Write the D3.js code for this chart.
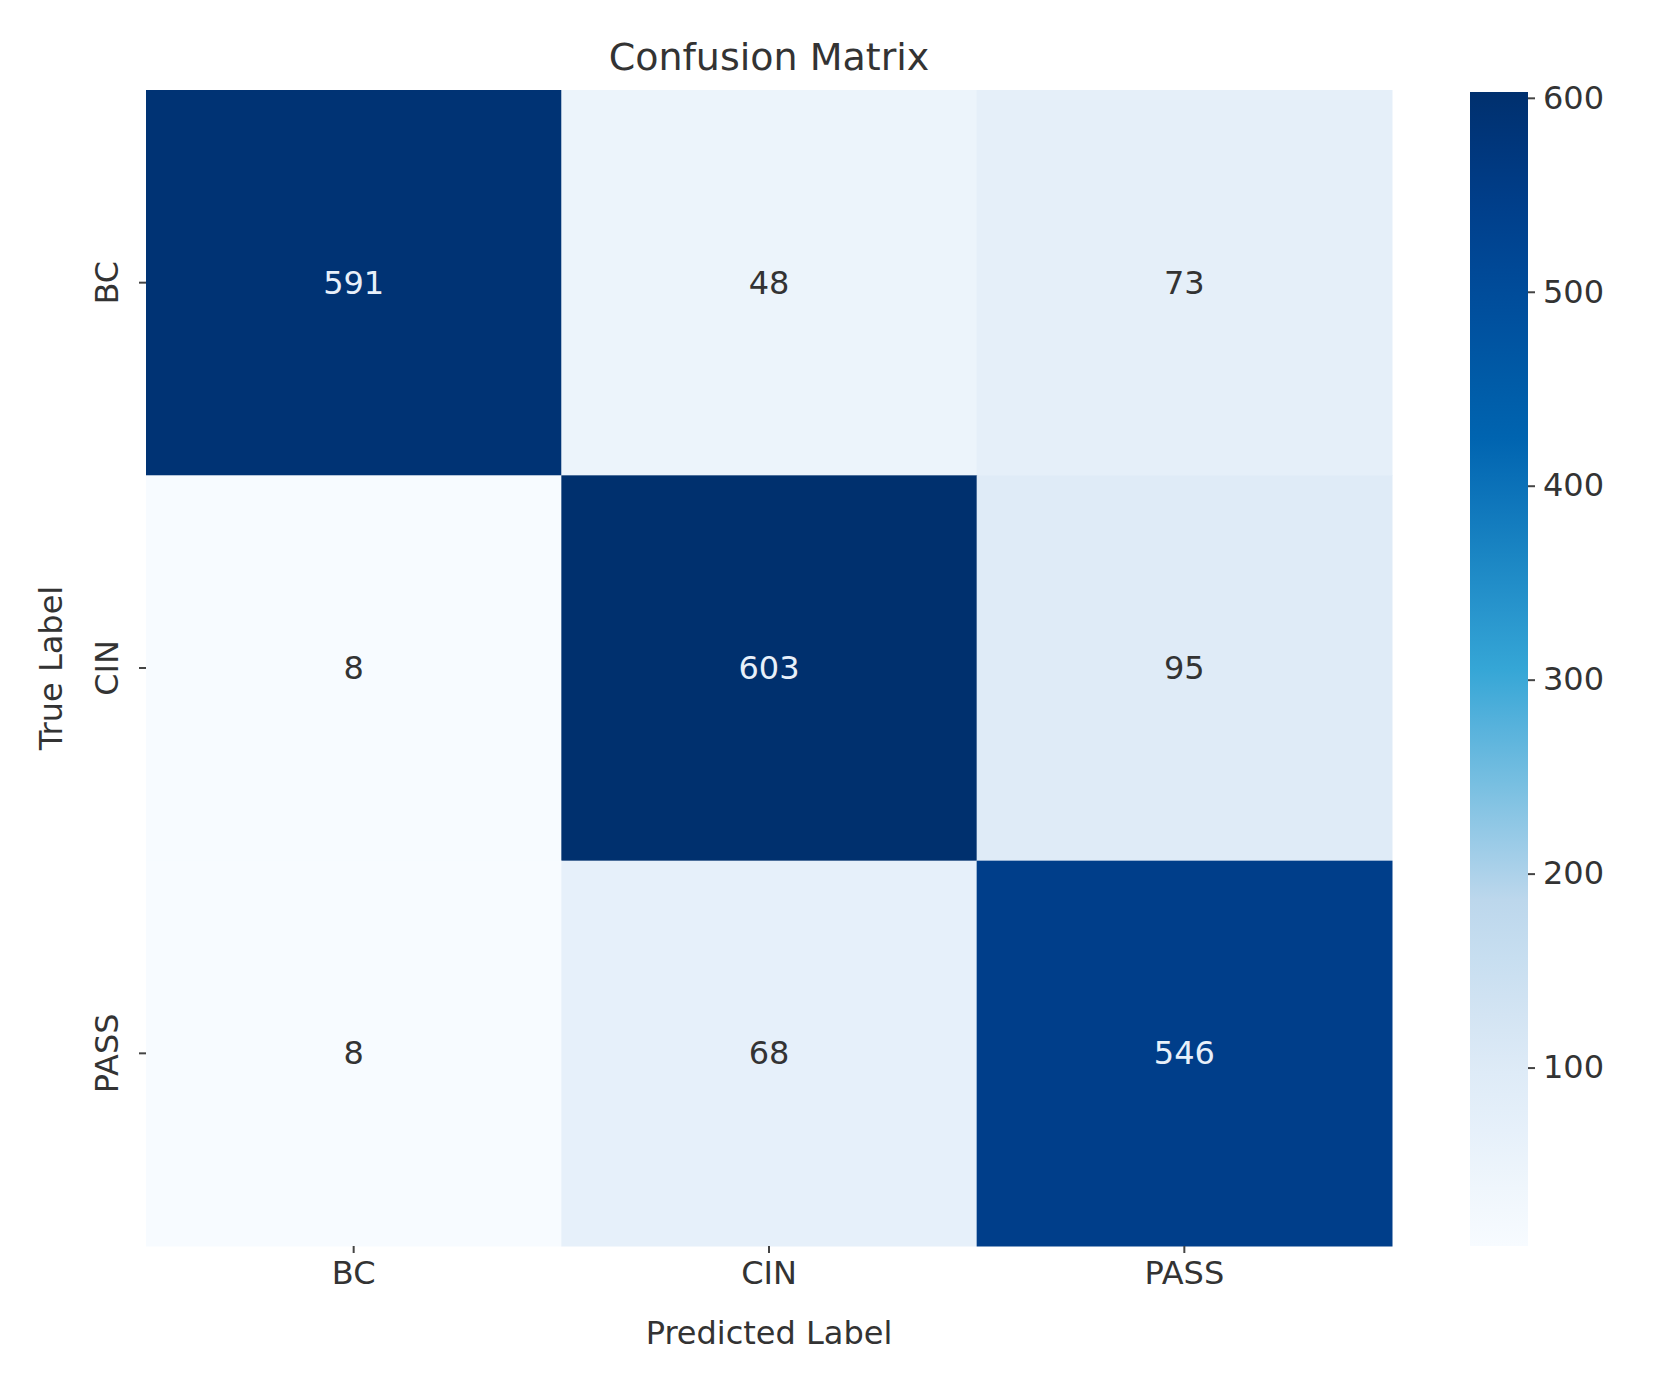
<!DOCTYPE html>
<html><head><meta charset="utf-8">
<script src="https://cdn.jsdelivr.net/npm/d3@7"></script>
<style>body{margin:0;background:#fff}text{font-family:"DejaVu Sans",sans-serif;fill:#333}</style>
</head><body>
<script>
var labels = ['BC','CIN','PASS'];
var matrix = [[591,48,73],[8,603,95],[8,68,546]];
var barTicks = [100,200,300,400,500,600];

var W = 1656, H = 1388;
var mLeft = 146, mTop = 90, mRight = 1392, mBottom = 1246;
var vmin = 8, vmax = 603;

var svg = d3.select('body').append('svg').attr('width',W).attr('height',H);
//blues-like ramp, reading the colorbar of the reference
var ramp = d3.scaleLinear()
	.domain([0,0.15,0.3,0.5,0.7,0.88,1])
	.range(['#f7fbff','#deebf7','#bcd7ec','#35a6d6','#0064b0','#004291','#00306e'])
	.interpolate(d3.interpolateRgb);
var color = function(v){ return ramp((v-vmin)/(vmax-vmin)); };

var x = d3.scaleBand().domain(labels).range([mLeft,mRight]);
var y = d3.scaleBand().domain(labels).range([mTop,mBottom]);

//cells
labels.forEach(function(r,i){
	labels.forEach(function(c,j){
		var v = matrix[i][j];
		svg.append('rect').attr('x',x(c)).attr('y',y(r))
			.attr('width',x.bandwidth()+0.5).attr('height',y.bandwidth()+0.5)
			.attr('fill',color(v));
		svg.append('text').attr('x',x(c)+x.bandwidth()/2).attr('y',y(r)+y.bandwidth()/2)
			.attr('text-anchor','middle').attr('dominant-baseline','central')
			.style('font-size','32px').style('fill',v>350?'#e8f0fa':'#333').text(v);
	});
});

//axes
var gx = svg.append('g').attr('transform','translate(0,'+mBottom+')')
	.call(d3.axisBottom(x).tickSize(7).tickPadding(8));
var gy = svg.append('g').attr('transform','translate('+mLeft+',0)')
	.call(d3.axisLeft(y).tickSize(7).tickPadding(8));
[gx,gy].forEach(function(g){
	g.select('.domain').remove();
	g.selectAll('line').attr('stroke','#444').attr('stroke-width',2);
	g.selectAll('text').style('font-size','32px');
});
gy.selectAll('text')
	.attr('x',0).attr('y',0).attr('dy',0)
	.attr('text-anchor','middle')
	.attr('transform','translate(-28,0) rotate(-90)');

svg.append('text').attr('x',(mLeft+mRight)/2).attr('y',70).attr('text-anchor','middle')
	.style('font-size','38px').text('Confusion Matrix');
svg.append('text').attr('x',(mLeft+mRight)/2).attr('y',1344).attr('text-anchor','middle')
	.style('font-size','32px').text('Predicted Label');
svg.append('text').attr('transform','translate(62,'+((mTop+mBottom)/2)+') rotate(-90)')
	.attr('text-anchor','middle').style('font-size','32px').text('True Label');

//colorbar
var cbx = 1470, cbw = 58, cbTop = 92;
var cy = d3.scaleLinear().domain([vmin,vmax]).range([mBottom,cbTop]);
var grad = svg.append('defs').append('linearGradient').attr('id','cb')
	.attr('x1',0).attr('y1',1).attr('x2',0).attr('y2',0);
d3.range(0,1.001,0.05).forEach(function(t){
	grad.append('stop').attr('offset',t).attr('stop-color',ramp(t));
});
svg.append('rect').attr('x',cbx).attr('y',cbTop).attr('width',cbw).attr('height',mBottom-cbTop).attr('fill','url(#cb)');
var gc = svg.append('g').attr('transform','translate('+(cbx+cbw)+',0)')
	.call(d3.axisRight(cy).tickValues(barTicks).tickSize(7).tickPadding(8));
gc.select('.domain').remove();
gc.selectAll('line').attr('stroke','#444').attr('stroke-width',2);
gc.selectAll('text').style('font-size','32px');
</script>
</body></html>
